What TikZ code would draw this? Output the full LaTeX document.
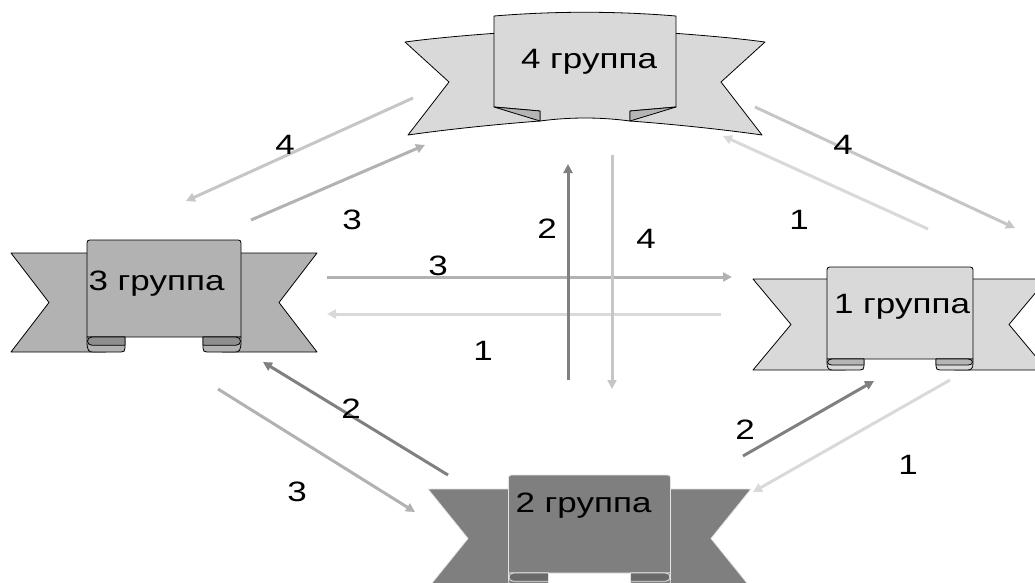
\documentclass[tikz,border=0pt]{standalone}
\usepackage{fontspec}
\setmainfont{Liberation Sans}[FakeStretch=1.25]
\usetikzlibrary{arrows.meta}
\definecolor{cone}{HTML}{D9D9D9}
\definecolor{cfour}{HTML}{C6C6C6}
\definecolor{cthree}{HTML}{B2B2B2}
\definecolor{ctwo}{HTML}{808080}
\definecolor{bl}{HTML}{D9D9D9}
\definecolor{bld}{HTML}{B5B5B5}
\definecolor{bm}{HTML}{B2B2B2}
\definecolor{bmd}{HTML}{8E8E8E}
\definecolor{bd}{HTML}{7F7F7F}
\definecolor{bdd}{HTML}{6A6A6A}
\definecolor{bdline}{HTML}{E4E4E4}
\newcommand\scrollban[9]{%
 \begin{scope}[shift={(#1,0)}]
  \foreach \s in {1,-1}{
   \begin{scope}[xscale=\s]
    \path[ribbody] ({-#6+#9/2},#2) -- (-#7,#2) -- ({-#7+#8},{(#2+#3)/2}) -- (-#7,#3) -- ({-#6+#9/2},#3) -- cycle;
   \end{scope}}
  \path[ribbody] (-#6,#5) -- (-#6,{#4+6}) .. controls (-#6,#4) and (-#6,#4) .. ({-#6+6},#4) -- ({#6-6},#4) .. controls (#6,#4) and (#6,#4) .. (#6,{#4+6}) -- (#6,#5) -- cycle;
  \foreach \s in {1,-1}{
   \begin{scope}[xscale=\s]
    \path[ribbody] (-#6,#5) -- (-#6,{#5+4}) .. controls (-#6,{#3-1}) and ({-#6+2},#3) .. ({-#6+6},#3) -- ({-#6+#9-4},#3) .. controls ({-#6+#9-1},#3) and ({-#6+#9},{#3-1}) .. ({-#6+#9},{#3-4}) -- ({-#6+#9},#5) -- cycle;
    \path[ribinner] ({-#6+#9},#5) -- ({-#6+5},#5) .. controls ({-#6-1},#5) and ({-#6-1},{#5+0.55*(#3-#5)}) .. ({-#6+5},{#5+0.55*(#3-#5)}) -- ({-#6+#9},{#5+0.55*(#3-#5)}) -- cycle;
   \end{scope}}
 \end{scope}}
\tikzset{
  arrowline/.style={line width=3pt,-{Triangle[length=9pt,width=9pt]}},
  aone/.style={arrowline,draw=cone},
  afour/.style={arrowline,draw=cfour},
  athree/.style={arrowline,draw=cthree},
  atwo/.style={arrowline,draw=ctwo},
  lab/.style={inner sep=0pt,anchor=base,font=\fontsize{28}{32}\selectfont},
}
\begin{document}
\begin{tikzpicture}[x=1pt,y=-1pt,line join=round]
\useasboundingbox (0,0) rectangle (1035,582);
\clip (0,0) rectangle (1035,582);

% ---- banner 4 (top, curved)
\begin{scope}[b4/.style={fill=bl,draw=black,line width=0.8pt},b4d/.style={fill=bld,draw=black,line width=0.8pt}]
\path[b4] (540,30) .. controls (500,33) and (450,36) .. (405,42) -- (449,82) -- (408,135) .. controls (450,129) and (500,124) .. (540,121) -- cycle;
\path[b4] (630,30) .. controls (670,33) and (720,36) .. (765,42) -- (721,82) -- (762,135) .. controls (720,129) and (670,124) .. (630,121) -- cycle;
\path[b4] (494,107) -- (494,16) .. controls (555,11) and (615,11) .. (676,16) -- (676,107) -- (630,111) -- (630,121) .. controls (600,117) and (570,117) .. (540,121) -- (540,111) -- cycle;
\path[b4d] (494,107) -- (540,111) -- (540,121) -- cycle;
\path[b4d] (676,107) -- (630,111) -- (630,121) -- cycle;
\end{scope}

% ---- banner 3 (left)
\begin{scope}[ribbody/.style={fill=bm,draw=black,line width=0.8pt},ribinner/.style={fill=bmd,draw=black,line width=0.8pt}]
\scrollban{164}{253}{352}{240}{337}{77}{153}{38}{38}
\end{scope}

% ---- banner 1 (right)
\begin{scope}[ribbody/.style={fill=bl,draw=black,line width=0.8pt},ribinner/.style={fill=bld,draw=black,line width=0.8pt}]
\scrollban{900}{279}{370}{267}{359}{73}{147}{38}{37}
\end{scope}

% ---- banner 2 (bottom)
\begin{scope}[ribbody/.style={fill=bd,draw=bdline,line width=0.8pt},ribinner/.style={fill=bdd,draw=bdline,line width=0.8pt}]
\scrollban{589.5}{489}{588}{475}{573}{81}{161.5}{40}{40}
\end{scope}

% ---- banner texts
\node[lab] (g4) at (589,68) {4 группа};
\node[lab] (g3) at (156.5,290) {3 группа};
\node[lab] (g1) at (902,313) {1 группа};
\node[lab] (g2) at (583.5,512) {2 группа};

% ---- arrow end points
\coordinate (p43s) at (413,98);  \coordinate (p43e) at (186,201);
\coordinate (p34s) at (251,220); \coordinate (p34e) at (425,145);
\coordinate (p41s) at (755,107); \coordinate (p41e) at (1015,228);
\coordinate (p14s) at (928,229); \coordinate (p14e) at (723,136);
\coordinate (p24s) at (568,380); \coordinate (p24e) at (568,164);
\coordinate (p42s) at (612,155); \coordinate (p42e) at (612,389);
\coordinate (p31s) at (327,277); \coordinate (p31e) at (732,277);
\coordinate (p13s) at (721,314); \coordinate (p13e) at (327,314);
\coordinate (p23s) at (448,475); \coordinate (p23e) at (263,362);
\coordinate (p32s) at (218,389); \coordinate (p32e) at (415,512);
\coordinate (p21s) at (743,456); \coordinate (p21e) at (874,381);
\coordinate (p12s) at (950,380); \coordinate (p12e) at (753,492);

% ---- arrows
\draw[afour]  (p43s) -- (p43e);
\draw[athree] (p34s) -- (p34e);
\draw[afour]  (p41s) -- (p41e);
\draw[aone]   (p14s) -- (p14e);
\draw[athree] (p31s) -- (p31e);
\draw[aone]   (p13s) -- (p13e);
\draw[atwo]   (p24s) -- (p24e);
\draw[afour]  (p42s) -- (p42e);
\draw[atwo]   (p23s) -- (p23e);
\draw[athree] (p32s) -- (p32e);
\draw[atwo]   (p21s) -- (p21e);
\draw[aone]   (p12s) -- (p12e);

% ---- arrow labels
\node[lab] (l1) at (285,154) {4};
\node[lab] (l2) at (352,229) {3};
\node[lab] (l3) at (843,154) {4};
\node[lab] (l4) at (799,229) {1};
\node[lab] (l5) at (547,238) {2};
\node[lab] (l6) at (646,248) {4};
\node[lab] (l7) at (438,275) {3};
\node[lab] (l8) at (483,360) {1};
\node[lab] (l9) at (351,418) {2};
\node[lab] (l10) at (297,501) {3};
\node[lab] (l11) at (745,439) {2};
\node[lab] (l12) at (908,474) {1};
\end{tikzpicture}
\end{document}
